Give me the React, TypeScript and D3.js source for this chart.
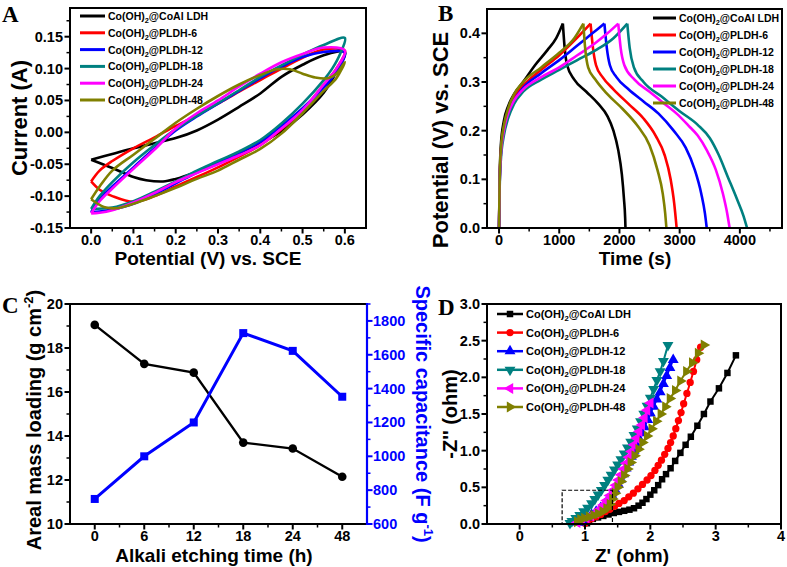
import React from 'react';
import * as d3 from 'd3';

type Pt = [number, number];

const FONT = "'Liberation Sans', Arial, Helvetica, sans-serif";
const SERIF = "'Liberation Serif', 'Times New Roman', serif";

// ---------- shared series ----------
const seriesSuffix = ['@CoAl LDH', '@PLDH-6', '@PLDH-12', '@PLDH-18', '@PLDH-24', '@PLDH-48'];
const seriesColors = ['#000000', '#ff0000', '#0000ff', '#008080', '#ff00ff', '#808000'];

// ---------- Panel A: CV loops (Potential V, Current A) ----------
const cvCoAl: Pt[] = [[0,-0.043],[0.05,-0.034],[0.1,-0.025],[0.15,-0.017],[0.2,-0.009],[0.25,0.003],[0.3,0.02],[0.35,0.04],[0.4,0.061],[0.45,0.087],[0.5,0.106],[0.55,0.121],[0.6,0.126],
  [0.58,0.095],[0.55,0.062],[0.5,0.028],[0.45,0.002],[0.4,-0.017],[0.35,-0.033],[0.3,-0.049],[0.25,-0.062],[0.2,-0.073],[0.17,-0.077],[0.13,-0.075],[0.1,-0.07],[0.05,-0.056],[0,-0.043]];
const cvP6: Pt[] = [[0,-0.077],[0.02,-0.06],[0.05,-0.045],[0.1,-0.025],[0.15,-0.008],[0.2,0.01],[0.25,0.027],[0.3,0.045],[0.35,0.064],[0.4,0.082],[0.45,0.1],[0.5,0.117],[0.55,0.13],[0.6,0.128],
  [0.58,0.1],[0.55,0.075],[0.5,0.035],[0.45,0.005],[0.4,-0.02],[0.35,-0.038],[0.3,-0.055],[0.25,-0.07],[0.2,-0.085],[0.15,-0.1],[0.1,-0.109],[0.05,-0.1],[0.02,-0.09],[0,-0.077]];
const cvP12: Pt[] = [[0,-0.125],[0.02,-0.105],[0.05,-0.085],[0.1,-0.055],[0.15,-0.025],[0.2,0.003],[0.25,0.025],[0.3,0.045],[0.35,0.065],[0.4,0.085],[0.45,0.103],[0.5,0.118],[0.55,0.126],[0.6,0.125],
  [0.58,0.095],[0.55,0.07],[0.5,0.038],[0.45,0.01],[0.4,-0.015],[0.35,-0.032],[0.3,-0.048],[0.25,-0.063],[0.2,-0.08],[0.15,-0.097],[0.1,-0.112],[0.05,-0.121],[0.02,-0.124],[0,-0.125]];
const cvP18: Pt[] = [[0,-0.12],[0.02,-0.1],[0.05,-0.078],[0.1,-0.047],[0.15,-0.02],[0.2,0.005],[0.25,0.026],[0.3,0.046],[0.35,0.066],[0.4,0.087],[0.45,0.105],[0.5,0.122],[0.55,0.137],[0.6,0.148],
  [0.59,0.125],[0.57,0.1],[0.55,0.082],[0.5,0.045],[0.45,0.014],[0.4,-0.012],[0.35,-0.03],[0.3,-0.045],[0.25,-0.06],[0.2,-0.077],[0.15,-0.093],[0.1,-0.108],[0.05,-0.118],[0,-0.12]];
const cvP24: Pt[] = [[0,-0.127],[0.02,-0.108],[0.05,-0.088],[0.1,-0.057],[0.15,-0.027],[0.2,0.006],[0.25,0.03],[0.3,0.05],[0.35,0.072],[0.4,0.092],[0.45,0.11],[0.5,0.123],[0.55,0.133],[0.6,0.128],
  [0.58,0.1],[0.55,0.075],[0.5,0.035],[0.45,0.006],[0.4,-0.02],[0.35,-0.036],[0.3,-0.05],[0.25,-0.064],[0.2,-0.078],[0.15,-0.095],[0.1,-0.11],[0.05,-0.122],[0.02,-0.126],[0,-0.127]];
const cvP48: Pt[] = [[0,-0.105],[0.02,-0.085],[0.05,-0.06],[0.1,-0.035],[0.15,-0.01],[0.2,0.015],[0.25,0.037],[0.3,0.057],[0.35,0.075],[0.4,0.09],[0.44,0.099],[0.47,0.099],[0.5,0.092],[0.53,0.086],[0.56,0.085],[0.58,0.092],[0.6,0.11],
  [0.58,0.085],[0.55,0.065],[0.5,0.03],[0.45,-0.002],[0.4,-0.026],[0.35,-0.043],[0.3,-0.06],[0.25,-0.073],[0.2,-0.087],[0.15,-0.1],[0.1,-0.112],[0.06,-0.119],[0.03,-0.117],[0,-0.105]];
const cvData = [cvCoAl, cvP6, cvP12, cvP18, cvP24, cvP48];

// ---------- Panel B: GCD (Time s, Potential V) ----------
const gcdCoAl: Pt[] = [[0,0],[10,0.1],[30,0.17],[80,0.22],[150,0.25],[250,0.275],[400,0.3],[600,0.335],[800,0.365],[950,0.39],[1060,0.42],
  [1090,0.37],[1130,0.335],[1250,0.305],[1450,0.28],[1650,0.255],[1800,0.23],[1900,0.2],[1980,0.16],[2040,0.11],[2075,0.06],[2095,0.02],[2100,0]];
const gcdP6: Pt[] = [[0,0],[10,0.09],[30,0.155],[80,0.205],[150,0.24],[250,0.268],[400,0.292],[700,0.325],[1000,0.355],[1250,0.385],[1520,0.42],
  [1560,0.37],[1610,0.335],[1720,0.31],[1900,0.285],[2150,0.255],[2400,0.225],[2600,0.19],[2750,0.15],[2850,0.1],[2910,0.05],[2950,0]];
const gcdP12: Pt[] = [[0,0],[10,0.09],[30,0.15],[80,0.2],[150,0.235],[250,0.262],[400,0.288],[700,0.318],[1000,0.345],[1300,0.375],[1550,0.4],[1750,0.42],
  [1790,0.37],[1840,0.335],[1950,0.31],[2150,0.285],[2400,0.26],[2650,0.235],[2900,0.2],[3100,0.165],[3250,0.12],[3360,0.07],[3420,0.03],[3450,0]];
const gcdP18: Pt[] = [[0,0],[10,0.08],[30,0.14],[80,0.19],[150,0.225],[250,0.255],[400,0.28],[700,0.305],[1000,0.325],[1300,0.345],[1600,0.365],[1900,0.39],[2130,0.42],
  [2170,0.37],[2240,0.33],[2400,0.3],[2700,0.27],[3000,0.24],[3300,0.212],[3500,0.185],[3650,0.15],[3800,0.105],[3950,0.06],[4060,0.025],[4120,0]];
const gcdP24: Pt[] = [[0,0],[10,0.09],[30,0.15],[80,0.2],[150,0.235],[250,0.262],[400,0.285],[700,0.31],[1000,0.33],[1300,0.355],[1600,0.38],[1800,0.4],[1980,0.42],
  [2020,0.37],[2080,0.335],[2250,0.305],[2500,0.28],[2750,0.255],[2950,0.235],[3150,0.21],[3300,0.19],[3450,0.16],[3600,0.12],[3720,0.07],[3790,0.03],[3830,0]];
const gcdP48: Pt[] = [[0,0],[10,0.1],[30,0.16],[80,0.21],[150,0.245],[250,0.275],[400,0.3],[700,0.33],[1000,0.36],[1250,0.39],[1400,0.42],
  [1430,0.37],[1480,0.33],[1600,0.305],[1800,0.275],[2050,0.245],[2300,0.21],[2500,0.17],[2630,0.12],[2720,0.07],[2760,0.03],[2780,0]];
const gcdData = [gcdCoAl, gcdP6, gcdP12, gcdP18, gcdP24, gcdP48];

// ---------- Panel C ----------
const etchTimes = ['0', '6', '12', '18', '24', '48'];
const massLoading = [19.05, 17.28, 16.88, 13.7, 13.43, 12.15];
const specCapacitance = [748, 1000, 1200, 1728, 1623, 1352];

// ---------- Panel D: Nyquist (Z', -Z'') ----------
const eisCoAl: Pt[] = [[1.03,0.01],[1.06,0.04],[1.12,0.07],[1.2,0.09],[1.28,0.11],[1.36,0.13],[1.44,0.15],[1.52,0.165],[1.6,0.18],[1.68,0.195],[1.75,0.215],[1.82,0.25],[1.88,0.29],[1.94,0.34],[2.0,0.4],[2.06,0.46],[2.12,0.53],[2.18,0.61],[2.24,0.68],[2.31,0.76],[2.38,0.86],[2.46,0.97],[2.54,1.08],[2.62,1.19],[2.72,1.34],[2.82,1.5],[2.92,1.67],[3.05,1.85],[3.18,2.06],[3.31,2.3]];
const eisP6: Pt[] = [[1.0,0.01],[1.04,0.04],[1.1,0.07],[1.17,0.1],[1.24,0.13],[1.31,0.17],[1.38,0.2],[1.45,0.24],[1.52,0.28],[1.6,0.32],[1.67,0.37],[1.74,0.42],[1.81,0.48],[1.88,0.54],[1.95,0.6],[2.01,0.66],[2.07,0.73],[2.12,0.8],[2.17,0.87],[2.22,0.95],[2.27,1.03],[2.31,1.11],[2.35,1.2],[2.39,1.3],[2.43,1.41],[2.47,1.52],[2.51,1.64],[2.56,1.78],[2.61,1.93],[2.66,2.08],[2.71,2.24],[2.77,2.41]];
const eisP12: Pt[] = [[0.9,0.02],[0.96,0.05],[1.03,0.09],[1.1,0.13],[1.17,0.17],[1.24,0.22],[1.3,0.27],[1.35,0.33],[1.41,0.4],[1.46,0.47],[1.51,0.54],[1.55,0.61],[1.59,0.68],[1.63,0.76],[1.67,0.84],[1.71,0.92],[1.75,1.0],[1.79,1.08],[1.83,1.16],[1.87,1.24],[1.91,1.32],[1.96,1.42],[2.0,1.51],[2.05,1.6],[2.1,1.7],[2.15,1.8],[2.2,1.91],[2.25,2.02],[2.3,2.13],[2.35,2.24]];
const eisP18: Pt[] = [[0.77,0.01],[0.8,0.04],[0.86,0.08],[0.92,0.12],[0.98,0.17],[1.04,0.22],[1.1,0.28],[1.15,0.34],[1.2,0.4],[1.25,0.46],[1.3,0.53],[1.35,0.6],[1.4,0.67],[1.45,0.74],[1.5,0.81],[1.55,0.88],[1.6,0.96],[1.65,1.04],[1.7,1.12],[1.75,1.21],[1.8,1.3],[1.85,1.4],[1.9,1.5],[1.95,1.61],[2.0,1.72],[2.05,1.84],[2.1,1.96],[2.15,2.08],[2.2,2.22],[2.27,2.44]];
const eisP24: Pt[] = [[0.88,0.02],[0.95,0.05],[1.02,0.08],[1.09,0.11],[1.16,0.15],[1.22,0.2],[1.28,0.26],[1.33,0.32],[1.38,0.39],[1.43,0.46],[1.47,0.53],[1.51,0.6],[1.55,0.67],[1.59,0.75],[1.63,0.83],[1.67,0.91],[1.71,0.99],[1.75,1.08],[1.79,1.17],[1.83,1.26],[1.87,1.35],[1.91,1.45],[1.95,1.55],[2.0,1.65]];
const eisP48: Pt[] = [[0.88,0.03],[0.93,0.06],[0.99,0.08],[1.06,0.1],[1.13,0.12],[1.2,0.14],[1.27,0.17],[1.33,0.21],[1.38,0.27],[1.42,0.34],[1.46,0.42],[1.5,0.5],[1.55,0.58],[1.6,0.66],[1.65,0.75],[1.7,0.84],[1.76,0.93],[1.82,1.02],[1.88,1.11],[1.95,1.2],[2.02,1.3],[2.09,1.4],[2.16,1.5],[2.23,1.6],[2.3,1.71],[2.38,1.82],[2.46,1.95],[2.55,2.08],[2.64,2.2],[2.73,2.33],[2.82,2.44]];
const eisData = [eisCoAl, eisP6, eisP12, eisP18, eisP24, eisP48];
const eisZoomBox = { x0: 0.65, x1: 1.42, y0: 0, y1: 0.46 };

// ---------- helpers ----------
const range = (a: number, b: number, s: number) => d3.range(0, Math.round((b - a) / s) + 1).map(i => +(a + i * s).toFixed(6));

const TICK_FS = 14.5;

function BottomAxis({ scale, y, major, minor, fmt }: any) {
  return (
    <g>
      {minor.map((v: number) => <line key={'m' + v} x1={scale(v)} x2={scale(v)} y1={y} y2={y + 3.5} stroke="#000" strokeWidth={1.5} />)}
      {major.map((v: number) => <line key={'M' + v} x1={scale(v)} x2={scale(v)} y1={y} y2={y + 5.5} stroke="#000" strokeWidth={2} />)}
      {major.map((v: number, i: number) => (
        <text key={'t' + v} x={scale(v)} y={y + 17} textAnchor="middle" fontSize={TICK_FS} fontWeight="bold">{fmt(v, i)}</text>
      ))}
    </g>
  );
}

function LeftAxis({ scale, x, major, minor, fmt }: any) {
  return (
    <g>
      {minor.map((v: number) => <line key={'m' + v} x1={x} x2={x - 3.5} y1={scale(v)} y2={scale(v)} stroke="#000" strokeWidth={1.5} />)}
      {major.map((v: number) => <line key={'M' + v} x1={x} x2={x - 5.5} y1={scale(v)} y2={scale(v)} stroke="#000" strokeWidth={2} />)}
      {major.map((v: number) => (
        <text key={'t' + v} x={x - 7} y={scale(v) + 5} textAnchor="end" fontSize={TICK_FS} fontWeight="bold">{fmt(v)}</text>
      ))}
    </g>
  );
}

function RightAxis({ scale, x, major, minor, fmt, color }: any) {
  return (
    <g>
      {minor.map((v: number) => <line key={'m' + v} x1={x} x2={x + 3.5} y1={scale(v)} y2={scale(v)} stroke={color} strokeWidth={1.5} />)}
      {major.map((v: number) => <line key={'M' + v} x1={x} x2={x + 5.5} y1={scale(v)} y2={scale(v)} stroke={color} strokeWidth={2} />)}
      {major.map((v: number) => (
        <text key={'t' + v} x={x + 6} y={scale(v) + 5} textAnchor="start" fontSize={TICK_FS} fontWeight="bold" fill={color}>{fmt(v)}</text>
      ))}
    </g>
  );
}

function LegendLabel({ x, y, suffix, size }: any) {
  return (
    <text x={x} y={y} fontSize={size} fontWeight="bold">
      <tspan>Co(OH)</tspan>
      <tspan fontSize={size * 0.7} dy={3}>2</tspan>
      <tspan dy={-3}>{suffix}</tspan>
    </text>
  );
}

const symbolTypes = [d3.symbolSquare, d3.symbolCircle, d3.symbolTriangle, d3.symbolTriangle, d3.symbolTriangle, d3.symbolTriangle];
const symbolRot = [0, 0, 0, 180, -90, 90];
const symbolSizes = [42, 42, 52, 52, 52, 52];

export default function App() {
  // Panel A
  const xA = d3.scaleLinear().domain([-0.05, 0.65]).range([70, 366]);
  const yA = d3.scaleLinear().domain([-0.15, 0.195]).range([228, 8]);
  const lineA = d3.line<Pt>().x(d => xA(d[0])).y(d => yA(d[1])).curve(d3.curveCatmullRom.alpha(0.5));

  // Panel B
  const xB = d3.scaleLinear().domain([-200, 4700]).range([487, 782]);
  const yB = d3.scaleLinear().domain([0, 0.45]).range([228, 9]);
  const lineB = d3.line<Pt>().x(d => xB(d[0])).y(d => yB(d[1])).curve(d3.curveMonotoneX);

  // Panel C
  const xC = d3.scaleLinear().domain([-0.5, 5.5]).range([70, 367]);
  const yCL = d3.scaleLinear().domain([10, 20]).range([524, 304]);
  const yCR = d3.scaleLinear().domain([600, 1900]).range([524, 304]);
  const lineCL = d3.line<number>().x((_, i) => xC(i)).y(d => yCL(d));
  const lineCR = d3.line<number>().x((_, i) => xC(i)).y(d => yCR(d));

  // Panel D
  const xD = d3.scaleLinear().domain([-0.5, 4]).range([487, 781]);
  const yD = d3.scaleLinear().domain([0, 3]).range([524, 304]);
  const lineD = d3.line<Pt>().x(d => xD(d[0])).y(d => yD(d[1]));

  const sym = (i: number) => d3.symbol().type(symbolTypes[i]).size(symbolSizes[i])() as string;

  return (
    <svg width={787} height={567} viewBox="0 0 787 567"
      style={{ position: 'absolute', left: 0, top: 0, background: '#fff' }} fontFamily={FONT}>
      <rect x={0} y={0} width={787} height={567} fill="#fff" />

      {/* ================= Panel A ================= */}
      <g>
        {cvData.map((d, i) => (
          <path key={i} d={lineA(d) as string} fill="none" stroke={seriesColors[i]} strokeWidth={2.6} strokeLinejoin="round" />
        ))}
        {seriesSuffix.map((s, i) => (
          <g key={i}>
            <line x1={80} x2={105} y1={16 + i * 16.8} y2={16 + i * 16.8} stroke={seriesColors[i]} strokeWidth={3} />
            <LegendLabel x={108} y={16 + i * 16.8 + 4} suffix={s} size={10.5} />
          </g>
        ))}
        <rect x={70} y={8} width={296} height={220} fill="none" stroke="#000" strokeWidth={2} />
        <LeftAxis scale={yA} x={70} major={range(-0.15, 0.15, 0.05)} minor={range(-0.125, 0.175, 0.05)} fmt={(v: number) => v.toFixed(2)} />
        <BottomAxis scale={xA} y={228} major={range(0, 0.6, 0.1)} minor={range(0.05, 0.55, 0.1)} fmt={(v: number) => v.toFixed(1)} />
        <text x={208} y={265} textAnchor="middle" fontSize={19} fontWeight="bold">Potential (V) vs. SCE</text>
        <text transform="translate(27,118) rotate(-90)" textAnchor="middle" fontSize={22} fontWeight="bold">Current (A)</text>
        <text x={2} y={22} fontFamily={SERIF} fontSize={23} fontWeight="bold">A</text>
      </g>

      {/* ================= Panel B ================= */}
      <g>
        {gcdData.map((d, i) => {
          const k = d3.maxIndex(d, p => p[1]);
          return (
            <g key={i}>
              <path d={lineB(d.slice(0, k + 1)) as string} fill="none" stroke={seriesColors[i]} strokeWidth={2.6} />
              <path d={lineB(d.slice(k)) as string} fill="none" stroke={seriesColors[i]} strokeWidth={2.6} />
            </g>
          );
        })}
        {seriesSuffix.map((s, i) => (
          <g key={i}>
            <line x1={653} x2={676} y1={18 + i * 17} y2={18 + i * 17} stroke={seriesColors[i]} strokeWidth={3} />
            <LegendLabel x={679} y={18 + i * 17 + 4} suffix={s} size={10.5} />
          </g>
        ))}
        <rect x={487} y={9} width={295} height={219} fill="none" stroke="#000" strokeWidth={2} />
        <LeftAxis scale={yB} x={487} major={range(0, 0.4, 0.1)} minor={range(0.05, 0.35, 0.1)} fmt={(v: number) => v.toFixed(1)} />
        <BottomAxis scale={xB} y={228} major={range(0, 4000, 1000)} minor={range(500, 4500, 1000)} fmt={(v: number) => String(v)} />
        <text x={635} y={265} textAnchor="middle" fontSize={19} fontWeight="bold">Time (s)</text>
        <text transform="translate(448,140) rotate(-90)" textAnchor="middle" fontSize={22} fontWeight="bold">Potential (V) vs. SCE</text>
        <text x={438} y={21} fontFamily={SERIF} fontSize={23} fontWeight="bold">B</text>
      </g>

      {/* ================= Panel C ================= */}
      <g>
        <path d={lineCL(massLoading) as string} fill="none" stroke="#000" strokeWidth={2.4} />
        {massLoading.map((v, i) => <circle key={i} cx={xC(i)} cy={yCL(v)} r={4.3} fill="#000" />)}
        <path d={lineCR(specCapacitance) as string} fill="none" stroke="#0000ff" strokeWidth={3} />
        {specCapacitance.map((v, i) => <rect key={i} x={xC(i) - 4} y={yCR(v) - 4} width={8} height={8} fill="#0000ff" />)}
        <rect x={70} y={304} width={297} height={220} fill="none" stroke="#000" strokeWidth={2} />
        <line x1={367} x2={367} y1={303} y2={525} stroke="#0000ff" strokeWidth={2.2} />
        <LeftAxis scale={yCL} x={70} major={range(10, 20, 2)} minor={range(11, 19, 2)} fmt={(v: number) => String(v)} />
        <RightAxis scale={yCR} x={367} major={range(600, 1800, 200)} minor={range(700, 1900, 200)} fmt={(v: number) => String(v)} color="#0000ff" />
        <BottomAxis scale={xC} y={524} major={d3.range(etchTimes.length)} minor={range(0.5, 4.5, 1)} fmt={(_: number, i: number) => etchTimes[i]} />
        <text x={214} y={562} textAnchor="middle" fontSize={19} fontWeight="bold">Alkali etching time (h)</text>
        <text transform="translate(41,420) rotate(-90)" textAnchor="middle" fontSize={20} fontWeight="bold">
          <tspan>Areal mass loading (g cm</tspan>
          <tspan fontSize={13} dy={-8}>-2</tspan>
          <tspan dy={8}>)</tspan>
        </text>
        <text transform="translate(416,414) rotate(90)" textAnchor="middle" fontSize={20} fontWeight="bold" fill="#0000ff">
          <tspan>Specific capacitance (F g</tspan>
          <tspan fontSize={13} dy={-8}>-1</tspan>
          <tspan dy={8}>)</tspan>
        </text>
        <text x={2} y={313} fontFamily={SERIF} fontSize={23} fontWeight="bold">C</text>
      </g>

      {/* ================= Panel D ================= */}
      <g>
        {eisData.map((d, i) => (
          <g key={i}>
            <path d={lineD(d) as string} fill="none" stroke={seriesColors[i]} strokeWidth={2} />
            {d.map((p, j) => (
              <path key={j} d={sym(i)} transform={`translate(${xD(p[0])},${yD(p[1])}) rotate(${symbolRot[i]})`} fill={seriesColors[i]} />
            ))}
          </g>
        ))}
        <rect x={xD(eisZoomBox.x0)} y={yD(eisZoomBox.y1)} width={xD(eisZoomBox.x1) - xD(eisZoomBox.x0)} height={yD(eisZoomBox.y0) - yD(eisZoomBox.y1)}
          fill="none" stroke="#000" strokeWidth={1.2} strokeDasharray="4,2" />
        {seriesSuffix.map((s, i) => (
          <g key={i}>
            <line x1={497} x2={523} y1={314 + i * 18.6} y2={314 + i * 18.6} stroke={seriesColors[i]} strokeWidth={2.5} />
            <path d={sym(i)} transform={`translate(510,${314 + i * 18.6}) rotate(${symbolRot[i]})`} fill={seriesColors[i]} />
            <LegendLabel x={526} y={314 + i * 18.6 + 4} suffix={s} size={11} />
          </g>
        ))}
        <rect x={487} y={304} width={294} height={220} fill="none" stroke="#000" strokeWidth={2} />
        <LeftAxis scale={yD} x={487} major={range(0, 3, 0.5)} minor={range(0.25, 2.75, 0.5)} fmt={(v: number) => v.toFixed(1)} />
        <BottomAxis scale={xD} y={524} major={range(0, 4, 1)} minor={range(0.5, 3.5, 1)} fmt={(v: number) => String(v)} />
        <text x={632} y={562} textAnchor="middle" fontSize={19} fontWeight="bold">Z' (ohm)</text>
        <text transform="translate(457,414) rotate(-90)" textAnchor="middle" fontSize={20} fontWeight="bold">-Z'' (ohm)</text>
        <text x={438} y={315} fontFamily={SERIF} fontSize={23} fontWeight="bold">D</text>
      </g>
    </svg>
  );
}
